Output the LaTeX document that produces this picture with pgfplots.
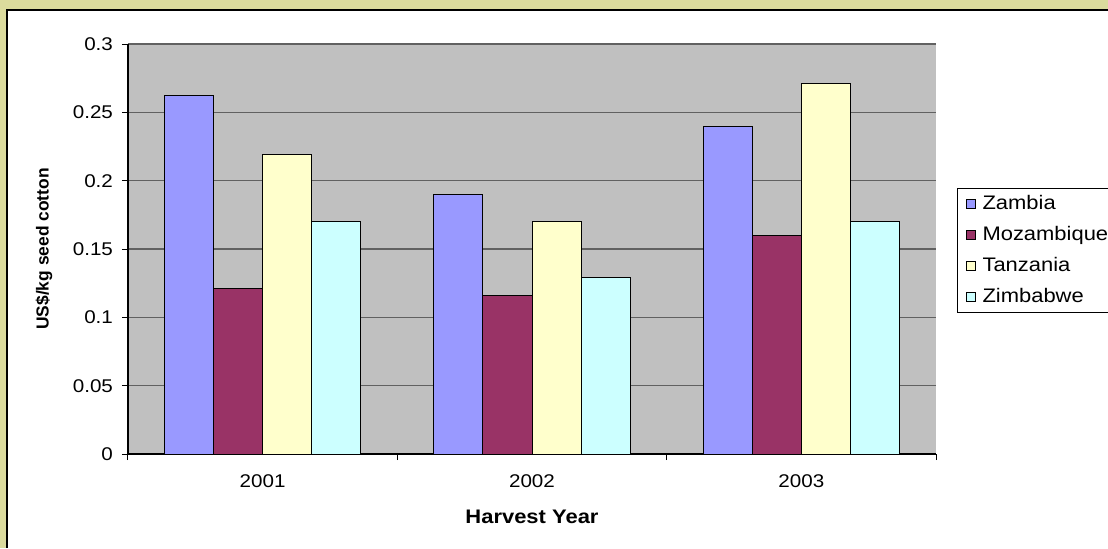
\documentclass[border=0pt]{standalone}
\usepackage{fontspec}
\setmainfont{Liberation Sans}[FakeStretch=1.12]
\newfontfamily\ylabfont{Liberation Sans}
\usepackage{pgfplots}
\pgfplotsset{compat=1.18}
\definecolor{khaki}{RGB}{219,219,157}
\definecolor{plotbg}{RGB}{192,192,192}
\definecolor{cZam}{RGB}{153,153,255}
\definecolor{cMoz}{RGB}{153,51,102}
\definecolor{cTan}{RGB}{255,255,204}
\definecolor{cZim}{RGB}{204,255,255}
\newcommand{\legtxt}[1]{\makebox[63pt][l]{#1}}
\begin{document}
\begin{tikzpicture}
\useasboundingbox (-64pt,-47pt) rectangle (490pt,227pt);
\fill[white] (-64pt,-47pt) rectangle (490pt,227pt);
\fill[khaki] (-64pt,222pt) rectangle (490pt,227pt);
\fill[khaki] (-64pt,-47pt) rectangle (-60.5pt,227pt);
\draw[black,line width=0.8pt] (-60.5pt,-47pt) -- (-60.5pt,222pt) -- (490pt,222pt);
\begin{axis}[
  at={(0,0)}, anchor=south west,
  scale only axis, width=404pt, height=205pt,
  ybar=0pt, bar width=0.182,
  xmin=0, xmax=3, ymin=0, ymax=0.3,
  axis background/.style={fill=plotbg},
  axis x line=bottom, axis y line=left,
  axis line style={black, line width=0.6pt, -},
  xtick={0.5,1.5,2.5}, xticklabels={2001,2002,2003},
  minor xtick={0,1,2,3},
  ytick={0,0.05,0.1,0.15,0.2,0.25,0.3},
  yticklabels={0,0.05,0.1,0.15,0.2,0.25,0.3},
  tick align=outside,
  major tick length=3pt, minor tick length=3pt,
  x tick style={draw=none},
  minor x tick style={draw=black, line width=0.5pt},
  y tick style={black, line width=0.5pt},
  ymajorgrids, grid style={draw=black!62, line width=0.8pt},
  tick label style={font=\fontsize{9.2}{11}\selectfont},
  xticklabel style={yshift=-4pt},
  yticklabel style={xshift=-1pt},
  xlabel={\textbf{Harvest Year}},
  ylabel={\ylabfont\bfseries US\$/kg seed cotton},
  xlabel style={font=\fontsize{9.8}{11}\selectfont, at={(0.5,0)}, anchor=center, yshift=-31.5pt},
  every axis y label/.style={at={(-42pt,102.5pt)}, rotate=90, anchor=center, font=\fontsize{8.7}{10}\selectfont},
  legend style={at={(1.026,0.649)}, anchor=north west, draw=black, line width=0.5pt,
    font=\fontsize{9.8}{11}\selectfont, fill=white, row sep=2.9pt,
    inner xsep=4pt, inner ysep=1.5pt,
    nodes={inner xsep=3.5pt}},
  legend cell align=left,
  legend image code/.code={\draw[#1,draw=black,line width=0.4pt] (0pt,-2.3pt) rectangle (4.6pt,2.3pt);},
]
\addplot[fill=cZam, draw=black, line width=0.5pt] coordinates {(0.5,0.262) (1.5,0.19) (2.5,0.24)};
\addplot[fill=cMoz, draw=black, line width=0.5pt] coordinates {(0.5,0.121) (1.5,0.116) (2.5,0.16)};
\addplot[fill=cTan, draw=black, line width=0.5pt] coordinates {(0.5,0.219) (1.5,0.17) (2.5,0.271)};
\addplot[fill=cZim, draw=black, line width=0.5pt] coordinates {(0.5,0.17) (1.5,0.129) (2.5,0.17)};
\legend{\legtxt{Zambia},\legtxt{Mozambique},\legtxt{Tanzania},\legtxt{Zimbabwe}}
\end{axis}
\end{tikzpicture}
\end{document}
